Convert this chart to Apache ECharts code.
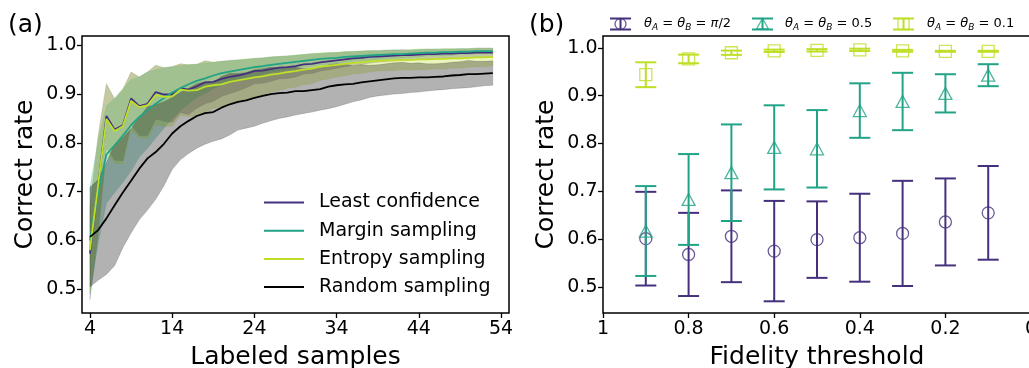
<!DOCTYPE html>
<html>
<head>
<meta charset="utf-8">
<script src="https://cdn.jsdelivr.net/npm/echarts@6/dist/echarts.min.js"></script>
<style>
  html, body { margin: 0; padding: 0; background: #fff; }
  #chart { width: 1029px; height: 368px; }
</style>
</head>
<body>
<div id="chart"></div>
<script>
// ---------- Panel (a): correct rate vs. number of labeled samples ----------
const samples = [4,5,6,7,8,9,10,11,12,13,14,15,16,17,18,19,20,21,22,23,24,25,26,27,28,29,
  30,31,32,33,34,35,36,37,38,39,40,41,42,43,44,45,46,47,48,49,50,51,52,53];

const leastConfMean = [0.573,0.715,0.855,0.827,0.836,0.891,0.875,0.880,0.904,0.899,
  0.899,0.912,0.909,0.916,0.924,0.925,0.931,0.935,0.938,0.942,
  0.947,0.948,0.951,0.954,0.955,0.957,0.961,0.962,0.965,0.967,
  0.969,0.971,0.973,0.974,0.976,0.977,0.978,0.979,0.980,0.980,
  0.981,0.982,0.982,0.983,0.983,0.984,0.984,0.985,0.985,0.985];
const leastConfStd = [0.095,0.100,0.066,0.063,0.073,0.054,0.060,0.065,0.055,0.055,
  0.057,0.050,0.051,0.045,0.044,0.040,0.036,0.034,0.032,0.029,
  0.026,0.026,0.025,0.023,0.023,0.022,0.020,0.020,0.018,0.017,
  0.016,0.015,0.014,0.014,0.013,0.012,0.012,0.011,0.011,0.010,
  0.010,0.010,0.010,0.009,0.009,0.009,0.009,0.009,0.009,0.009];

const marginMean = [0.600,0.700,0.776,0.795,0.815,0.836,0.853,0.867,0.880,0.892,
  0.903,0.912,0.920,0.927,0.932,0.938,0.943,0.946,0.949,0.952,
  0.955,0.957,0.960,0.962,0.964,0.966,0.968,0.970,0.972,0.973,
  0.974,0.976,0.977,0.978,0.979,0.980,0.981,0.982,0.982,0.983,
  0.984,0.985,0.985,0.986,0.986,0.987,0.987,0.988,0.988,0.988];
const marginStd = [0.110,0.105,0.100,0.097,0.096,0.094,0.082,0.078,0.070,0.062,
  0.053,0.046,0.040,0.034,0.031,0.027,0.024,0.022,0.021,0.020,
  0.018,0.017,0.016,0.015,0.014,0.014,0.013,0.013,0.012,0.012,
  0.011,0.011,0.010,0.010,0.010,0.009,0.009,0.009,0.008,0.008,
  0.008,0.007,0.007,0.007,0.007,0.006,0.006,0.006,0.006,0.006];

const entropyMean = [0.580,0.715,0.849,0.824,0.834,0.886,0.873,0.877,0.898,0.894,
  0.895,0.909,0.907,0.908,0.915,0.918,0.920,0.925,0.928,0.931,
  0.934,0.936,0.940,0.942,0.945,0.947,0.950,0.952,0.956,0.958,
  0.960,0.962,0.964,0.965,0.967,0.968,0.969,0.969,0.970,0.970,
  0.971,0.971,0.972,0.972,0.973,0.973,0.974,0.975,0.975,0.976];
const entropyStd = [0.090,0.100,0.072,0.066,0.077,0.059,0.062,0.068,0.061,0.060,
  0.061,0.053,0.053,0.053,0.053,0.047,0.047,0.043,0.042,0.041,
  0.039,0.038,0.036,0.035,0.033,0.033,0.031,0.031,0.028,0.027,
  0.025,0.025,0.023,0.023,0.022,0.021,0.021,0.021,0.020,0.021,
  0.021,0.021,0.020,0.021,0.020,0.020,0.019,0.019,0.019,0.018];

const randomMean = [0.607,0.621,0.645,0.672,0.698,0.722,0.747,0.768,0.781,0.798,
  0.819,0.834,0.845,0.855,0.861,0.863,0.872,0.879,0.884,0.887,
  0.892,0.896,0.900,0.902,0.903,0.906,0.906,0.908,0.910,0.915,
  0.918,0.920,0.921,0.924,0.926,0.928,0.930,0.932,0.933,0.933,
  0.934,0.934,0.935,0.936,0.938,0.939,0.941,0.941,0.942,0.943];
const randomStd = [0.102,0.103,0.115,0.124,0.113,0.107,0.105,0.106,0.097,0.086,
  0.074,0.069,0.067,0.066,0.064,0.060,0.064,0.063,0.058,0.057,
  0.058,0.056,0.055,0.052,0.050,0.049,0.046,0.045,0.043,0.045,
  0.044,0.041,0.037,0.036,0.033,0.032,0.032,0.032,0.032,0.030,
  0.030,0.028,0.027,0.027,0.027,0.027,0.028,0.026,0.025,0.025];

const methodNames = ['Least confidence', 'Margin sampling', 'Entropy sampling', 'Random sampling'];
const sampleTicks = [4, 14, 24, 34, 44, 54];
const rateTicks = [0.5, 0.6, 0.7, 0.8, 0.9, 1.0];

// ---------- Panel (b): correct rate vs. fidelity threshold ----------
const thresholds = [0.9, 0.8, 0.7, 0.6, 0.5, 0.4, 0.3, 0.2, 0.1];
const piHalfMean = [0.601, 0.568, 0.606, 0.575, 0.599, 0.603, 0.612, 0.636, 0.655];
const piHalfErr  = [0.098, 0.087, 0.096, 0.105, 0.080, 0.092, 0.110, 0.091, 0.098];
const halfMean   = [0.617, 0.683, 0.739, 0.792, 0.789, 0.869, 0.888, 0.905, 0.943];
const halfErr    = [0.094, 0.095, 0.101, 0.088, 0.081, 0.057, 0.060, 0.040, 0.023];
const tenthMean  = [0.944, 0.977, 0.990, 0.994, 0.995, 0.996, 0.994, 0.993, 0.993];
const tenthErr   = [0.026, 0.009, 0.0045, 0.0025, 0.0025, 0.0025, 0.002, 0.001, 0.001];
const thresholdTicks = [1, 0.8, 0.6, 0.4, 0.2, 0];

const PURPLE = '#46307e', TEAL = '#21a386', LIME = '#bddf26', BLACK = '#000000';
const FONT = 'DejaVu Sans';

function rgba(hex, a) {
  const n = parseInt(hex.slice(1), 16);
  return `rgba(${(n >> 16) & 255},${(n >> 8) & 255},${n & 255},${a})`;
}

// shaded mean ± std band drawn as one polygon through the axis scales
function bandSeries(mean, std, color, alpha) {
  const data = samples.map((x, i) => [x, mean[i] - std[i], mean[i] + std[i]]);
  return {
    type: 'custom', xAxisIndex: 0, yAxisIndex: 0, silent: true, z: 1,
    data, encode: { x: 0, y: [1, 2] },
    renderItem(params, api) {
      if (params.dataIndex !== 0) return null;
      const top = data.map(d => api.coord([d[0], d[2]]));
      const bot = data.map(d => api.coord([d[0], d[1]])).reverse();
      return {
        type: 'polygon',
        shape: { points: top.concat(bot) },
        style: { fill: rgba(color, alpha), stroke: rgba(color, alpha * 0.6), lineWidth: 0.8 }
      };
    }
  };
}

function lineSeries(name, mean, color) {
  return {
    name, type: 'line', xAxisIndex: 0, yAxisIndex: 0, z: 3,
    data: samples.map((x, i) => [x, mean[i]]),
    symbol: 'none', showSymbol: false, smooth: false,
    lineStyle: { color, width: 1.8 }, itemStyle: { color },
    emphasis: { disabled: true }
  };
}

function errorSeries(mean, err, color, z) {
  return {
    type: 'custom', xAxisIndex: 1, yAxisIndex: 1, silent: true, z,
    data: thresholds.map((t, i) => [t, mean[i] - err[i], mean[i] + err[i]]),
    encode: { x: 0, y: [1, 2] },
    renderItem(params, api) {
      const lo = api.coord([api.value(0), api.value(1)]);
      const hi = api.coord([api.value(0), api.value(2)]);
      const cap = 10.5;
      const st = { stroke: color, lineWidth: 2 };
      return {
        type: 'group', children: [
          { type: 'line', shape: { x1: lo[0], y1: lo[1], x2: hi[0], y2: hi[1] }, style: st },
          { type: 'line', shape: { x1: lo[0] - cap, y1: lo[1], x2: lo[0] + cap, y2: lo[1] }, style: st },
          { type: 'line', shape: { x1: hi[0] - cap, y1: hi[1], x2: hi[0] + cap, y2: hi[1] }, style: st }
        ]
      };
    }
  };
}

function markerSeries(mean, color, symbol, size, z) {
  return {
    type: 'scatter', xAxisIndex: 1, yAxisIndex: 1, silent: true, z,
    data: thresholds.map((t, i) => [t, mean[i]]),
    symbol, symbolSize: size,
    itemStyle: { color: 'rgba(0,0,0,0)', borderColor: rgba(color, 0.8), borderWidth: 1.3, opacity: 1 }
  };
}

const tickStyle = { show: true, length: 5, inside: false, lineStyle: { color: '#000', width: 1.3 } };
const labelStyle = { color: '#000', fontSize: 19, fontFamily: FONT };
const nameStyle = { color: '#000', fontSize: 25, fontFamily: FONT };
const hiddenLine = { show: false, onZero: false };
const rateFmt = v => v.toFixed(1);

// legend entries of panel (b): error bar glyph + marker + math label
function legendEntry(x0, color, marker, labelX, value) {
  const cx = x0 + 10.5, y1 = 18.5, y2 = 29.5, cy = 24;
  const st = { stroke: color, lineWidth: 2 };
  const mk = { fill: 'none', stroke: rgba(color, 0.8), lineWidth: 1.3 };
  let shape;
  if (marker === 'circle') {
    shape = { type: 'circle', shape: { cx, cy, r: 5.5 }, style: mk };
  } else if (marker === 'triangle') {
    shape = { type: 'polygon', shape: { points: [[cx, cy - 5.5], [cx - 6, cy + 5], [cx + 6, cy + 5]] }, style: mk };
  } else {
    shape = { type: 'rect', shape: { x: cx - 5.5, y: cy - 5.5, width: 11, height: 11 }, style: mk };
  }
  return [
    { type: 'line', shape: { x1: x0, y1, x2: x0 + 21, y2: y1 }, style: st },
    { type: 'line', shape: { x1: x0, y1: y2, x2: x0 + 21, y2 }, style: st },
    { type: 'line', shape: { x1: cx, y1, x2: cx, y2 }, style: st },
    shape,
    {
      type: 'text', x: labelX, y: cy,
      style: {
        text: `{t|θ}{s|A}{n| = }{t|θ}{s|B}{n| = }${value}`,
        verticalAlign: 'middle', fill: '#000',
        rich: {
          t: { fontFamily: FONT, fontSize: 13, fontStyle: 'italic', lineHeight: 16, fill: '#000' },
          s: { fontFamily: FONT, fontSize: 9, fontStyle: 'italic', lineHeight: 9, verticalAlign: 'bottom', fill: '#000' },
          n: { fontFamily: FONT, fontSize: 13, lineHeight: 16, fill: '#000' },
          p: { fontFamily: FONT, fontSize: 13, fontStyle: 'italic', lineHeight: 16, fill: '#000' }
        }
      }
    }
  ];
}

const chart = echarts.init(document.getElementById('chart'), null, { renderer: 'canvas' });

chart.setOption({
  animation: false,
  backgroundColor: '#fff',
  textStyle: { fontFamily: FONT },
  grid: [
    { left: 82, top: 36, width: 427, height: 277, outerBoundsMode: 'none', containLabel: false,
      show: true, borderColor: '#000', borderWidth: 1.5, backgroundColor: 'transparent' },
    { left: 603, top: 36, width: 428, height: 277, outerBoundsMode: 'none', containLabel: false,
      show: true, borderColor: '#000', borderWidth: 1.5, backgroundColor: 'transparent' }
  ],
  xAxis: [
    {
      gridIndex: 0, type: 'value', min: 3.03, max: 54.97, position: 'bottom',
      axisLine: hiddenLine, splitLine: { show: false },
      axisTick: Object.assign({ customValues: sampleTicks }, tickStyle),
      axisLabel: Object.assign({ customValues: sampleTicks, margin: 6.5 }, labelStyle),
      name: 'Labeled samples', nameLocation: 'middle', nameGap: 32, nameTextStyle: nameStyle
    },
    {
      gridIndex: 1, type: 'value', min: 0, max: 1, inverse: true, position: 'bottom',
      axisLine: hiddenLine, splitLine: { show: false },
      axisTick: Object.assign({ customValues: thresholdTicks }, tickStyle),
      axisLabel: Object.assign({
        customValues: thresholdTicks, margin: 6.5, showMinLabel: true, showMaxLabel: true,
        formatter: v => (Math.abs(v - 1) < 1e-9 ? '1' : Math.abs(v) < 1e-9 ? '0' : v.toFixed(1))
      }, labelStyle),
      name: 'Fidelity threshold', nameLocation: 'middle', nameGap: 32, nameTextStyle: nameStyle
    }
  ],
  yAxis: [
    {
      gridIndex: 0, type: 'value', min: 0.451, max: 1.019, position: 'left',
      axisLine: hiddenLine, splitLine: { show: false },
      axisTick: Object.assign({ customValues: rateTicks }, tickStyle),
      axisLabel: Object.assign({ customValues: rateTicks, margin: 5.5, formatter: rateFmt }, labelStyle),
      name: 'Correct rate', nameLocation: 'middle', nameGap: 44, nameTextStyle: nameStyle
    },
    {
      gridIndex: 1, type: 'value', min: 0.4455, max: 1.025, position: 'left',
      axisLine: hiddenLine, splitLine: { show: false },
      axisTick: Object.assign({ customValues: rateTicks }, tickStyle),
      axisLabel: Object.assign({ customValues: rateTicks, margin: 5.5, formatter: rateFmt }, labelStyle),
      name: 'Correct rate', nameLocation: 'middle', nameGap: 44, nameTextStyle: nameStyle
    }
  ],
  legend: {
    data: methodNames, orient: 'vertical', left: 264, top: 191.5, padding: 0,
    itemWidth: 40, itemHeight: 14, itemGap: 6.2,
    icon: 'path://M0,0 L40,0 L40,2 L0,2 Z',
    textStyle: { color: '#000', fontSize: 19, fontFamily: FONT, lineHeight: 22, padding: [0, 0, 0, 10] },
    selectedMode: false
  },
  graphic: [
    { type: 'text', x: 8, y: 25, style: { text: '(a)', fontSize: 25, fontFamily: FONT, fill: '#000', verticalAlign: 'middle' } },
    { type: 'text', x: 529, y: 25, style: { text: '(b)', fontSize: 25, fontFamily: FONT, fill: '#000', verticalAlign: 'middle' } },
    ...legendEntry(610, PURPLE, 'circle', 644, '{p|π}{n|/2}'),
    ...legendEntry(752, TEAL, 'triangle', 785, '{n|0.5}'),
    ...legendEntry(893, LIME, 'square', 927, '{n|0.1}')
  ],
  series: [
    bandSeries(leastConfMean, leastConfStd, PURPLE, 0.3),
    bandSeries(marginMean, marginStd, TEAL, 0.3),
    bandSeries(entropyMean, entropyStd, LIME, 0.3),
    bandSeries(randomMean, randomStd, BLACK, 0.3),
    lineSeries(methodNames[0], leastConfMean, PURPLE),
    lineSeries(methodNames[1], marginMean, TEAL),
    lineSeries(methodNames[2], entropyMean, LIME),
    lineSeries(methodNames[3], randomMean, BLACK),
    errorSeries(piHalfMean, piHalfErr, PURPLE, 2),
    markerSeries(piHalfMean, PURPLE, 'circle', 12, 3),
    errorSeries(halfMean, halfErr, TEAL, 4),
    markerSeries(halfMean, TEAL, 'triangle', [13, 12], 5),
    errorSeries(tenthMean, tenthErr, LIME, 6),
    markerSeries(tenthMean, LIME, 'rect', 12, 7)
  ]
});
</script>
</body>
</html>
